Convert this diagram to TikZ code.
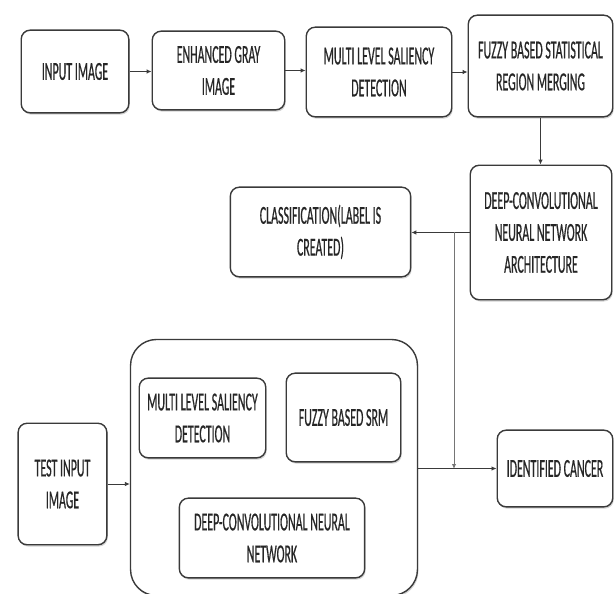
\documentclass[tikz,border=0pt]{standalone}
\usepackage{fontspec}
\setmainfont{Carlito}[FakeStretch=0.46, FakeBold=0.5]
\usetikzlibrary{arrows.meta,shadows}
\definecolor{ink}{HTML}{262626}
\definecolor{edge}{HTML}{3A3A3A}
\tikzset{
    blk/.style={draw=edge, line width=1.4bp, fill=white, rounded corners=9bp, align=center,
        inner sep=0pt, text=ink, font=\fontsize{26}{32}\selectfont,
        drop shadow={shadow xshift=1bp, shadow yshift=-1.8bp, opacity=.35}},
    arr/.style={draw=edge, line width=0.9bp, -{Latex[length=5bp,width=4.5bp]}},
}
\begin{document}
\begin{tikzpicture}[x=1bp, y=-1bp]
    \useasboundingbox (0,0) rectangle (615,594);
    \node[blk, minimum width=108, minimum height=83] (in) at (75,71.5) {INPUT IMAGE};
    \node[blk, minimum width=133, minimum height=79] (gray) at (218.5,70.5) {ENHANCED GRAY\\IMAGE};
    \node[blk, minimum width=146, minimum height=90] (mlsd) at (379,72) {MULTI LEVEL SALIENCY\\DETECTION};
    \node[blk, minimum width=145, minimum height=102] (fsrm) at (540.5,66) {FUZZY BASED STATISTICAL\\REGION MERGING};
    \node[blk, minimum width=142, minimum height=135] (dcnn) at (541,232.5) {DEEP-CONVOLUTIONAL\\NEURAL NETWORK\\ARCHITECTURE};
    \node[blk, minimum width=181, minimum height=90] (cls) at (320.5,232) {CLASSIFICATION(LABEL IS\\CREATED)};
    \node[blk, minimum width=89, minimum height=122] (test) at (62.5,484) {TEST INPUT\\IMAGE};
    \node[blk, rounded corners=26bp, minimum width=288, minimum height=257] (big) at (274,467.5) {};
    \node[blk, minimum width=127, minimum height=80] (mlsd2) at (202.5,418) {MULTI LEVEL SALIENCY\\DETECTION};
    \node[blk, minimum width=115, minimum height=89] (srm2) at (343.5,417.5) {FUZZY BASED SRM};
    \node[blk, minimum width=186, minimum height=80] (dcnn2) at (272,538) {DEEP-CONVOLUTIONAL NEURAL\\NETWORK};
    \node[blk, minimum width=116, minimum height=77] (ic) at (555,468.5) {IDENTIFIED CANCER};
    \coordinate (split) at (454,232);
    \coordinate (join) at (454,469);
    \draw[arr] (in.east) -- (in.east -| gray.west);
    \draw[arr] (gray.east) -- (gray.east -| mlsd.west);
    \draw[arr] (mlsd.east) -- (mlsd.east -| fsrm.west);
    \draw[arr] (fsrm.south) -- (fsrm.south |- dcnn.north);
    \draw[arr] (dcnn.west) -- (dcnn.west -| cls.east);
    \draw[arr, draw=edge!70] (split) -- (join);
    \draw[arr] (test.east) -- (test.east -| big.west);
    \draw[arr] (ic.west -| big.east) -- (ic.west);
\end{tikzpicture}
\end{document}
